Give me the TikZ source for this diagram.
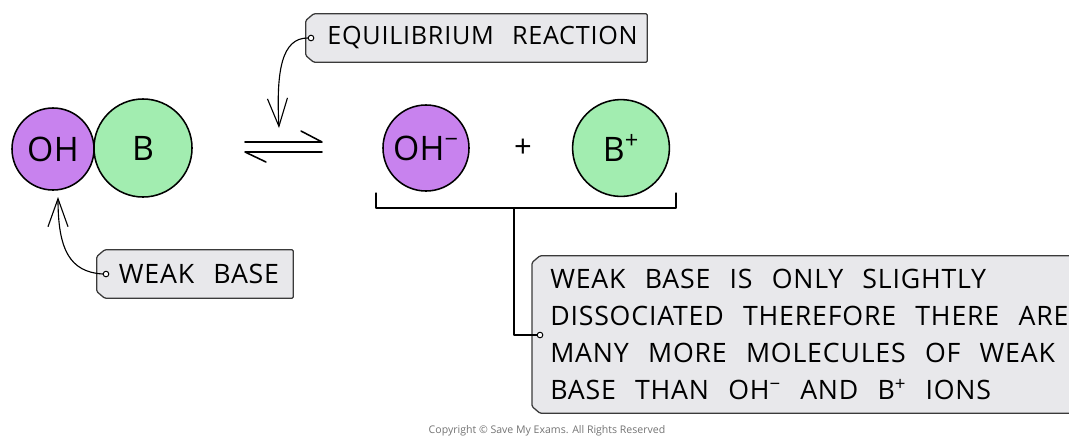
\documentclass[tikz,border=0pt]{standalone}
\usepackage{fontspec}
\setmainfont{Open Sans}[LetterSpace=3,WordSpace=2.1]
\newfontfamily\molfont{Open Sans}[LetterSpace=1]
\newfontfamily\copyfont{Open Sans}
\usetikzlibrary{arrows.meta,positioning,backgrounds}
\definecolor{ohpurple}{HTML}{C882EE}
\definecolor{bgreen}{HTML}{A2EDB0}
\definecolor{tagfill}{HTML}{E8E8EB}
\definecolor{tagline}{HTML}{3A3A3A}
\newcommand{\wordgap}{\spaceskip=0.72em\relax}
\tikzset{
  mol/.style={circle,draw=black,line width=1.1pt,inner sep=0pt,font=\molfont\fontsize{24}{28}\selectfont},
  tagbox/.style={rectangle,inner sep=0pt,font=\fontsize{19}{26.4}\selectfont},
  tagedge/.style={draw=tagline,fill=tagfill,line width=0.9pt,rounded corners=1pt},
  hole/.style={circle,draw=black,fill=white,line width=0.7pt,inner sep=0pt,minimum size=0.14cm},
  callout/.style={black,line width=0.8pt,-{Straight Barb[length=0.7cm,width=0.5cm,line width=0.8pt]}}
}
\newcommand{\tagoutline}[1]{%
  \path[tagedge] ([xshift=0.2cm]#1.north west) -- (#1.north east) -- (#1.south east)
    -- ([xshift=0.2cm]#1.south west) -- ([yshift=0.17cm]#1.south west)
    -- ([yshift=-0.17cm]#1.north west) -- cycle;}
\begin{document}
\begin{tikzpicture}[x=0.025cm,y=-0.025cm,line cap=round,line join=round]
\useasboundingbox (0,0) rectangle (1069,436);
\node[mol,fill=ohpurple,minimum size=2.05cm] (oh) at (53,149) {OH};
\node[mol,fill=bgreen,minimum size=2.45cm] (b) at (143,148) {B};
\node[mol,fill=ohpurple,minimum size=2.15cm] (ohm) at (426,148) {OH\textsuperscript{−}};
\node[font=\fontsize{22}{26}\selectfont] (plus) at (523,148) {+};
\node[mol,fill=bgreen,minimum size=2.42cm] (bp) at (621,148) {B\textsuperscript{+}};
% equilibrium sign
\draw[line width=1.1pt] (245,142) -- (322,142) -- (301,131);
\draw[line width=1.1pt] (322,152) -- (245,152) -- (266,162);
% tags
\node[tagbox,minimum width=8.525cm,minimum height=1.2cm,font=\fontsize{17.9}{24}\selectfont] (eqtag) at (476.5,38) {\wordgap\hspace{0.3cm}EQUILIBRIUM REACTION};
\node[tagbox,minimum width=4.9cm,minimum height=1.2cm] (basetag) at (195,274) {\wordgap\hspace{0.2cm}WEAK BASE};
\node[tagbox,anchor=west,minimum width=14cm,minimum height=3.925cm,text width=14cm,align=left,inner xsep=0.45cm] (notetag) at (532,334.5)
  {\wordgap WEAK BASE IS ONLY SLIGHTLY\\ DISSOCIATED THEREFORE THERE ARE\\ MANY MORE MOLECULES OF WEAK\\ BASE THAN OH\textsuperscript{−} AND B\textsuperscript{+} IONS};
\begin{scope}[on background layer]
  \tagoutline{eqtag}
  \tagoutline{basetag}
  \tagoutline{notetag}
\end{scope}
\node[hole] (eqhole) at (311,38) {};
\node[hole] (basehole) at (106,274) {};
\node[hole] (notehole) at (540,335) {};
% callouts
\draw[callout] (eqhole.west) .. controls (282,38) and (276,70) .. (279,128);
\draw[callout] (basehole.west) .. controls (70,272) and (58,250) .. (58,197);
% bracket under products
\coordinate (brmid) at (514,208);
\draw[line width=0.9pt] (376,193) |- (676,208) -- (676,193);
\draw[line width=0.9pt] (brmid) |- (notehole.west);
\node[font=\copyfont\fontsize{7.5}{9}\selectfont,text=black!55] (copy) at (547,431) {Copyright © Save My Exams. All Rights Reserved};
\end{tikzpicture}
\end{document}
